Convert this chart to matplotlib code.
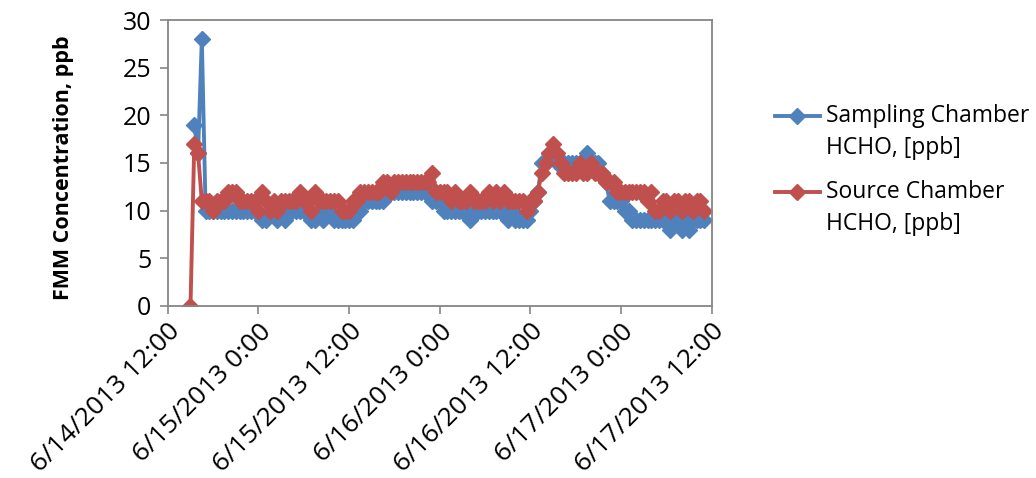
import numpy as np
import pandas as pd
import matplotlib.pyplot as plt
import matplotlib.dates as mdates
from matplotlib.lines import Line2D
from matplotlib.ticker import FuncFormatter

plt.rcParams['font.family'] = ['Open Sans', 'DejaVu Sans']

# half-hourly readings from 6/14/2013 15:00 to 6/17/2013 11:00
start = '2013-06-14 15:00'

sampling = [np.nan, 19, 16, 28, 10, 10, 10, 10, 10, 10,
            10, 10, 10, 10, 10, 10, 10, 10, 10, 9,
            9, 10, 10, 9, 10, 9, 10, 10, 10, 10,
            10, 10, 9, 9, 10, 9, 10, 10, 9, 9,
            9, 9, 9, 9, 10, 10, 11, 11, 11, 11,
            11, 11, 12, 12, 12, 12, 12, 12, 12, 12,
            12, 12, 12, 12, 11, 11, 11, 10, 10, 10,
            10, 10, 10, 10, 9, 10, 10, 10, 10, 10,
            10, 10, 10, 10, 9, 10, 9, 9, 9, 9,
            10, 11, 12, 15, 15, 16, 16, 15, 15, 15,
            15, 15, 15, 15, 15, 16, 15, 15, 15, 14,
            13, 11, 11, 11, 11, 10, 10, 9, 9, 9,
            9, 9, 9, 9, 9, 9, 9, 8, 9, 9,
            8, 9, 8, 9, 9, 9, 9]

source = [0, 17, 16, 11, 11, 11, 10, 11, 11, 11,
          12, 12, 12, 11, 11, 11, 11, 11, 10, 12,
          11, 10, 11, 10, 11, 11, 11, 11, 11, 12,
          11, 11, 10, 12, 11, 11, 11, 11, 11, 11,
          10, 10, 10, 11, 11, 12, 12, 12, 12, 12,
          12, 13, 13, 12, 13, 13, 13, 13, 13, 13,
          13, 13, 13, 13, 14, 12, 12, 12, 12, 11,
          12, 11, 11, 11, 12, 11, 11, 11, 11, 12,
          11, 12, 11, 12, 11, 11, 11, 11, 11, 10,
          11, 11, 12, 14, 15, 16, 17, 16, 15, 14,
          14, 14, 14, 15, 14, 14, 15, 14, 14, 14,
          13, 13, 13, 12, 12, 12, 12, 12, 12, 12,
          12, 11, 12, 10, 10, 11, 11, 10, 11, 11,
          10, 11, 11, 10, 11, 11, 10]

series_names = [('Sampling Chamber', 'HCHO, [ppb]'),
                ('Source Chamber', 'HCHO, [ppb]')]

times = pd.date_range(start, periods=len(source), freq='30min')

blue = '#4F81BD'
red = '#C0504D'
frame = '#868686'

fig = plt.figure(figsize=(10.36, 4.78), dpi=100)
ax = fig.add_axes([0.162, 0.36, 0.525, 0.598])

ax.plot(times, sampling, color=blue, lw=2.8, marker='D', ms=8.5)
ax.plot(times, source, color=red, lw=2.8, marker='D', ms=8.5)

ax.set_xlim(pd.Timestamp('2013-06-14 12:00'), pd.Timestamp('2013-06-17 12:00'))
ax.set_ylim(0, 30)
ax.set_yticks(range(0, 31, 5))
ax.xaxis.set_major_locator(mdates.HourLocator(byhour=[0, 12]))


def date_label(x, pos):
    d = mdates.num2date(x)
    return f'{d.month}/{d.day}/{d.year} {d.hour}:{d.minute:02d}'


ax.xaxis.set_major_formatter(FuncFormatter(date_label))

ax.tick_params(axis='both', colors=frame, labelcolor='black',
               length=6, width=1.2, direction='out')
ax.tick_params(axis='y', labelsize=18, pad=6)
ax.tick_params(axis='x', labelsize=19)
for lab in ax.get_xticklabels():
    lab.set_rotation(45)
    lab.set_ha('right')
    lab.set_va('top')
    lab.set_rotation_mode('anchor')

for side in ax.spines.values():
    side.set_color(frame)
    side.set_linewidth(1.3)

ax.set_ylabel('FMM Concentration, ppb', fontsize=15.5, fontweight='bold')
ax.yaxis.set_label_coords(-0.172, 0.485)

# legend: handle beside the first line of each two-line label
for (line1, line2), col, yc in zip(series_names, [blue, red], [0.757, 0.598]):
    fig.add_artist(Line2D([0.748, 0.7915], [yc, yc], color=col, lw=2.8,
                          transform=fig.transFigure))
    fig.add_artist(Line2D([0.7695], [yc], color=col, marker='D', ms=8.5,
                          transform=fig.transFigure))
    fig.text(0.797, yc, line1, fontsize=16.5, va='center')
    fig.text(0.797, yc - 0.066, line2, fontsize=16.5, va='center')

plt.savefig('out.png', dpi=100)
